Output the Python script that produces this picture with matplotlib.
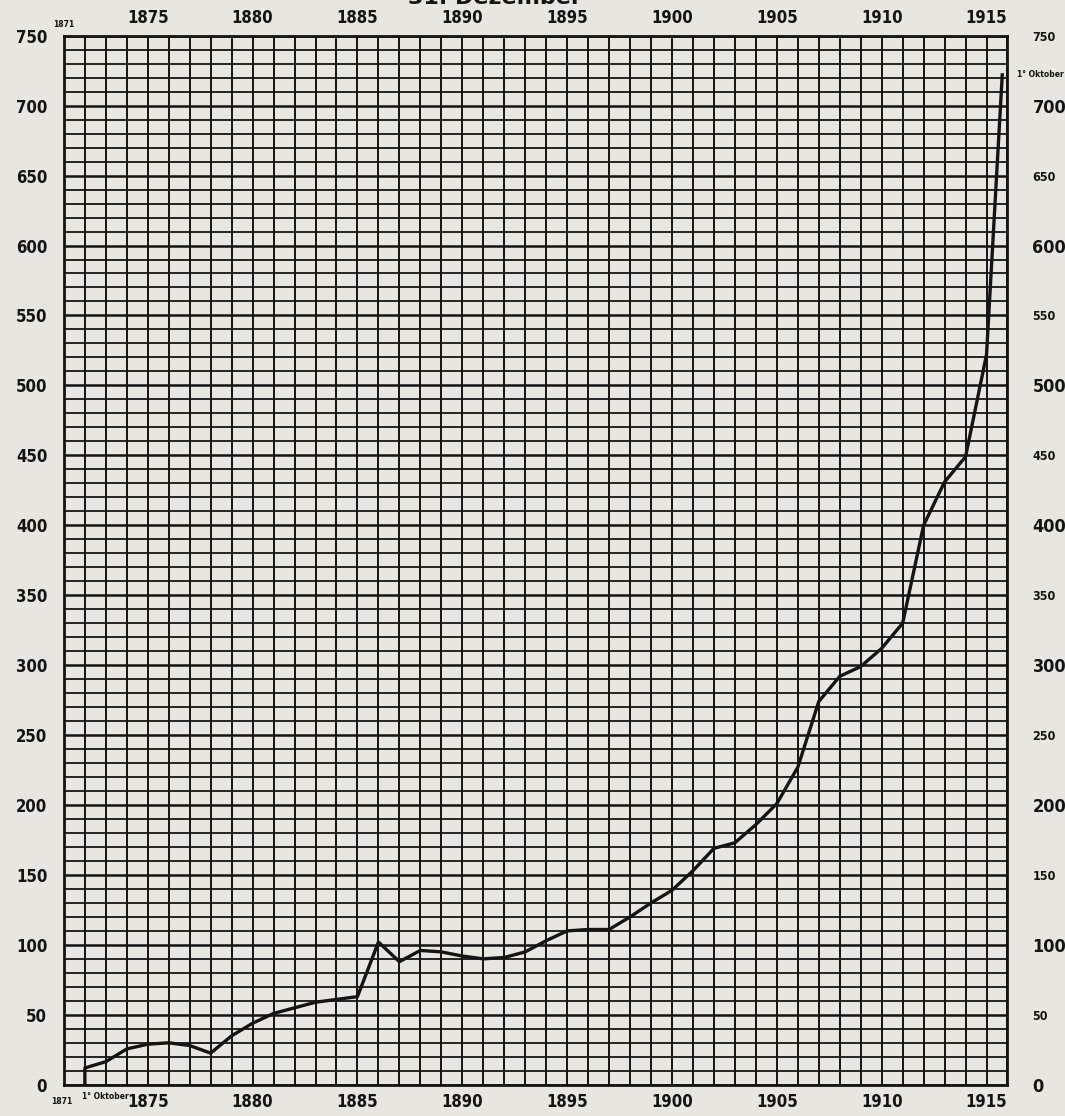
import numpy as np
import matplotlib.pyplot as plt
from matplotlib.ticker import MultipleLocator

# values (one point per year, start 1872, end 1 October 1915)
years = [1872, 1872, 1873, 1874, 1875, 1876, 1877, 1878, 1879, 1880,
         1881, 1882, 1883, 1884, 1885, 1886, 1887, 1888, 1889, 1890,
         1891, 1892, 1893, 1894, 1895, 1896, 1897, 1898, 1899, 1900,
         1901, 1902, 1903, 1904, 1905, 1906, 1907, 1908, 1909, 1910,
         1911, 1912, 1913, 1914, 1915, 1915.75]
values = [0, 12, 16.5, 25.6, 29, 30, 28, 22.6, 35, 44,
          51, 55, 59, 61, 63, 102, 88, 96, 95, 92,
          90, 91, 95, 103, 110, 111, 111, 120, 130, 139,
          153, 169, 173, 186, 201, 227, 274, 292, 299, 312,
          330, 400, 431, 449, 522, 722]

year_labels = list(range(1875, 1916, 5))
y_ticks = list(range(0, 751, 50))

paper = '#e8e6e1'
ink = '#141414'
font = ['Liberation Sans Narrow', 'DejaVu Sans']

fig = plt.figure(figsize=(10.65, 11.16), dpi=100, facecolor=paper)
ax = fig.add_axes([0.060, 0.028, 0.886, 0.940], facecolor=paper)

ax.set_xlim(1871, 1916)
ax.set_ylim(0, 750)

ax.xaxis.set_major_locator(MultipleLocator(5))
ax.xaxis.set_minor_locator(MultipleLocator(1))
ax.yaxis.set_major_locator(MultipleLocator(50))
ax.yaxis.set_minor_locator(MultipleLocator(10))

ax.grid(which='major', axis='y', color=ink, lw=1.8)
ax.grid(which='minor', axis='y', color=ink, lw=1.3)
ax.grid(which='both', axis='x', color=ink, lw=1.4)
ax.set_axisbelow(True)

for s in ax.spines.values():
    s.set_color(ink)
    s.set_linewidth(2.0)

ax.plot(years, values, color=ink, lw=2.4, solid_joinstyle='round', zorder=3)

ax.set_xticks(year_labels)
ax.set_xticklabels([str(y) for y in year_labels])
ax.set_yticks(y_ticks)
ax.set_yticklabels([str(v) for v in y_ticks])
ax.tick_params(which='both', length=0)
ax.tick_params(axis='x', labeltop=True, pad=6)
ax.tick_params(axis='y', pad=12)
for lab in ax.get_xticklabels() + ax.get_yticklabels():
    lab.set_fontfamily(font)
    lab.set_fontstretch('condensed')
    lab.set_fontweight('bold')
    lab.set_fontsize(12)
    lab.set_color(ink)

# right-hand scale: hundreds large, fifties small
ax2 = ax.twinx()
ax2.set_ylim(0, 750)
ax2.set_yticks(y_ticks)
ax2.set_yticklabels([str(v) for v in y_ticks])
ax2.tick_params(length=0, pad=18)
for v, lab in zip(y_ticks, ax2.get_yticklabels()):
    lab.set_fontfamily(font)
    lab.set_fontstretch('condensed')
    lab.set_fontweight('bold')
    lab.set_color(ink)
    lab.set_fontsize(13 if v % 100 == 0 else 9)
for s in ax2.spines.values():
    s.set_visible(False)

# small annotations
ax.text(1871, 1.006, '1871', transform=ax.get_xaxis_transform(), fontsize=5.5,
        fontweight='bold', family=font, ha='center', va='bottom', color=ink)
ax.text(1870.9, -0.012, '1871', transform=ax.get_xaxis_transform(), fontsize=5.5,
        fontweight='bold', family=font, ha='center', va='top', color=ink)
ax.text(1873.0, -0.007, '1° Oktober', transform=ax.get_xaxis_transform(), fontsize=5.5,
        fontweight='bold', family=font, ha='center', va='top', color=ink)
ax.text(1.035, 722, '1° Oktober', transform=ax.get_yaxis_transform(), fontsize=5.5,
        fontweight='bold', family=font, ha='center', va='center', color=ink)

fig.text(0.465, 1 - 8 / 1116, '31. Dezember', fontsize=16, fontweight='bold', family=font,
         ha='center', va='bottom', color=ink)

fig.savefig('out.png', dpi=100, facecolor=paper)
